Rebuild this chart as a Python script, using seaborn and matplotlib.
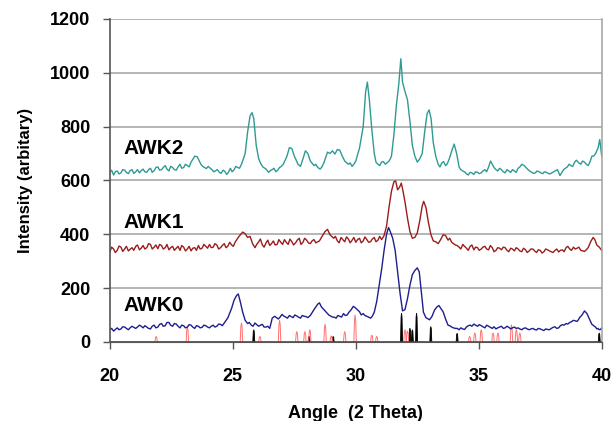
import numpy as np
import pandas as pd
import matplotlib
matplotlib.use('Agg')
import matplotlib.pyplot as plt
import seaborn as sns

# values (angle in 2-theta, intensity)
awk2_angle = [20.0, 20.15, 20.3, 20.45, 20.6, 20.75, 20.9, 21.05, 21.2, 21.35, 21.5, 21.65, 21.8, 21.95,
              22.1, 22.25, 22.4, 22.55, 22.7, 22.85, 23.0, 23.15, 23.3, 23.45, 23.55, 23.7, 23.85, 24.0,
              24.15, 24.3, 24.45, 24.6, 24.75, 24.9, 25.05, 25.2, 25.35, 25.5, 25.6, 25.7, 25.78, 25.85,
              25.95, 26.05, 26.15, 26.3, 26.45, 26.6, 26.75, 26.9, 27.05, 27.2, 27.3, 27.4, 27.5, 27.65,
              27.75, 27.85, 27.95, 28.05, 28.15, 28.3, 28.45, 28.55, 28.7, 28.85, 28.95, 29.05, 29.15,
              29.25, 29.35, 29.45, 29.55, 29.7, 29.85, 30.0, 30.15, 30.3, 30.4, 30.47, 30.55, 30.65, 30.75,
              30.9, 31.05, 31.2, 31.35, 31.45, 31.55, 31.65, 31.75, 31.83, 31.9, 32.0, 32.1, 32.2, 32.3,
              32.4, 32.5, 32.6, 32.7, 32.8, 32.9, 32.98, 33.06, 33.15, 33.25, 33.35, 33.5, 33.65, 33.8,
              33.92, 34.0, 34.1, 34.2, 34.35, 34.5, 34.65, 34.8, 34.95, 35.1, 35.25, 35.4, 35.48, 35.55,
              35.7, 35.85, 36.0, 36.15, 36.3, 36.45, 36.6, 36.75, 36.85, 37.0, 37.15, 37.3, 37.45, 37.6,
              37.75, 37.9, 38.05, 38.2, 38.3, 38.45, 38.6, 38.75, 38.9, 39.0, 39.15, 39.3, 39.45, 39.6,
              39.75, 39.85, 39.92, 40.0]
awk2_int = [630, 620, 635, 628, 638, 625, 640, 632, 628, 642, 630, 645, 636, 650,
            640, 655, 635, 648, 638, 660, 648, 655, 668, 690, 688, 660, 648, 652,
            640, 636, 630, 638, 622, 645, 640, 648, 660, 700, 780, 840, 852, 830,
            730, 680, 660, 645, 630, 640, 632, 648, 660, 690, 722, 718, 690, 660,
            652, 680, 710, 700, 672, 655, 648, 642, 665, 705, 700, 710, 698,
            715, 712, 690, 672, 660, 652, 672, 720, 800, 930, 965, 900, 790, 700,
            660, 668, 660, 672, 690, 770, 880, 960, 1052, 965, 930, 900, 820, 730,
            690, 668, 680, 700, 780, 848, 862, 830, 740, 690, 660, 665, 655, 680,
            715, 735, 700, 650, 635, 625, 630, 622, 630, 628, 640, 650, 672, 660,
            640, 645, 632, 640, 630, 635, 645, 660, 655, 640, 630, 628, 632, 625,
            630, 624, 632, 640, 618, 640, 650, 655, 668, 672, 660, 668, 655, 690,
            700, 720, 752, 690]
# extra wiggle points read between the main ones
awk2_angle_b = [20.07, 20.22, 20.37, 20.52, 20.67, 20.82, 20.97, 21.12, 21.27, 21.42, 21.57, 21.72,
                21.87, 22.02, 22.17, 22.32, 22.47, 22.62, 22.77, 22.92, 23.07, 23.22, 23.77, 23.92,
                24.07, 24.22, 24.37, 24.52, 24.67, 24.82, 24.97, 25.12, 25.27, 26.22, 26.37, 26.52,
                26.67, 26.82, 26.97, 28.37, 28.62, 29.77, 29.92, 30.82, 30.97, 31.12, 31.27, 31.4,
                33.42, 33.57, 33.72, 34.27, 34.42, 34.57, 34.72, 34.87, 35.02, 35.17, 35.32, 35.62,
                35.77, 35.92, 36.07, 36.22, 36.37, 36.52, 36.67, 36.92, 37.07, 37.22, 37.37, 37.52,
                37.67, 37.82, 37.97, 38.12, 38.37, 38.52, 38.67, 38.82, 38.97, 39.07, 39.22, 39.37,
                39.52, 39.67]
awk2_int_b = [638, 632, 624, 640, 630, 636, 626, 640, 636, 632, 640, 630,
              648, 638, 648, 642, 652, 640, 650, 645, 660, 650, 652, 644,
              646, 632, 640, 626, 634, 630, 632, 652, 645, 650, 640, 636,
              645, 638, 652, 660, 650, 665, 660, 668, 655, 670, 665, 680,
              650, 670, 662, 640, 632, 620, 628, 632, 625, 635, 632, 648,
              635, 640, 628, 635, 640, 630, 650, 648, 635, 626, 635, 628,
              632, 626, 628, 636, 628, 645, 660, 652, 675, 665, 672, 660,
              668, 690]

awk1_angle = [20.0, 20.15, 20.3, 20.45, 20.6, 20.75, 20.9, 21.05, 21.2, 21.35, 21.5, 21.65, 21.8, 21.95,
              22.1, 22.25, 22.4, 22.55, 22.7, 22.85, 23.0, 23.15, 23.3, 23.45, 23.6, 23.75, 23.9, 24.05,
              24.2, 24.35, 24.5, 24.65, 24.8, 24.95, 25.1, 25.25, 25.4, 25.5, 25.6, 25.7, 25.8, 25.9,
              26.05, 26.2, 26.35, 26.5, 26.65, 26.8, 26.95, 27.1, 27.25, 27.4, 27.55, 27.7, 27.85, 28.0,
              28.15, 28.3, 28.45, 28.6, 28.75, 28.85, 28.95, 29.1, 29.25, 29.4, 29.55, 29.7, 29.85, 30.0,
              30.15, 30.3, 30.45, 30.6, 30.75, 30.9, 31.05, 31.15, 31.25, 31.35, 31.45, 31.55, 31.62,
              31.7, 31.78, 31.85, 31.92, 32.0, 32.1, 32.2, 32.3, 32.4, 32.5, 32.6, 32.7, 32.76, 32.85,
              32.95, 33.05, 33.15, 33.25, 33.35, 33.45, 33.55, 33.65, 33.75, 33.9, 34.05, 34.2, 34.35,
              34.5, 34.65, 34.8, 34.95, 35.1, 35.25, 35.4, 35.55, 35.7, 35.85, 36.0, 36.15, 36.3, 36.45,
              36.6, 36.75, 36.9, 37.05, 37.2, 37.35, 37.5, 37.65, 37.8, 37.95, 38.1, 38.25, 38.4, 38.55,
              38.7, 38.85, 39.0, 39.15, 39.3, 39.45, 39.55, 39.65, 39.72, 39.8, 39.9, 40.0]
awk1_int = [335, 345, 340, 352, 345, 338, 350, 355, 342, 358, 350, 362, 352, 346,
            358, 350, 342, 355, 348, 340, 352, 345, 338, 350, 358, 348, 355, 362,
            352, 360, 350, 365, 356, 360, 372, 392, 408, 402, 388, 392, 365, 350,
            372, 360, 368, 358, 375, 362, 370, 380, 362, 372, 368, 385, 370, 378,
            365, 380, 372, 388, 410, 418, 398, 385, 375, 388, 372, 382, 378, 370,
            385, 375, 380, 372, 388, 378, 380, 395, 430, 500, 560, 595, 598,
            565, 575, 590, 560, 520, 460, 410, 385, 388, 405, 450, 505, 522, 500,
            445, 400, 375, 372, 365, 380, 398, 395, 378, 370, 360, 352, 362,
            348, 355, 342, 350, 345, 355, 342, 350, 340, 348, 352, 340, 348, 338,
            345, 335, 342, 338, 345, 332, 340, 335, 342, 335, 340, 334, 342, 350,
            345, 352, 348, 340, 336, 350, 372, 388, 380, 360, 352, 340]
awk1_angle_b = [20.07, 20.22, 20.37, 20.52, 20.67, 20.82, 20.97, 21.12, 21.27, 21.42, 21.57, 21.72,
                21.87, 22.02, 22.17, 22.32, 22.47, 22.62, 22.77, 22.92, 23.07, 23.22, 23.37, 23.52,
                23.67, 23.82, 23.97, 24.12, 24.27, 24.42, 24.57, 24.72, 24.87, 25.02, 25.97, 26.12,
                26.27, 26.42, 26.57, 26.72, 26.87, 27.02, 27.17, 27.32, 27.47, 27.62, 27.77, 27.92,
                28.07, 28.22, 28.37, 28.52, 29.17, 29.32, 29.47, 29.62, 29.77, 29.92, 30.07, 30.22,
                30.37, 30.52, 30.67, 30.82, 30.97, 33.82, 33.97, 34.12, 34.27, 34.42, 34.57, 34.72,
                34.87, 35.02, 35.17, 35.32, 35.47, 35.62, 35.77, 35.92, 36.07, 36.22, 36.37, 36.52,
                36.67, 36.82, 36.97, 37.12, 37.27, 37.42, 37.57, 37.72, 37.87, 38.02, 38.17, 38.32,
                38.47, 38.62, 38.77, 38.92, 39.07, 39.22, 39.37]
awk1_int_b = [352, 332, 356, 336, 355, 344, 340, 360, 348, 345, 365, 345,
              360, 362, 345, 362, 350, 340, 355, 358, 338, 355, 348, 340,
              345, 362, 348, 350, 365, 345, 358, 350, 370, 355, 362, 382,
              352, 378, 365, 360, 380, 362, 370, 382, 360, 378, 362, 385,
              368, 375, 368, 375, 392, 368, 380, 390, 368, 388, 380, 368,
              390, 370, 382, 372, 392, 385, 365, 358, 345, 355, 340, 360,
              352, 340, 352, 345, 358, 335, 350, 342, 350, 335, 345, 350,
              338, 348, 332, 345, 338, 342, 330, 345, 338, 332, 345, 340,
              335, 355, 340, 345, 352, 338, 342]

awk0_angle = [20.0, 20.15, 20.3, 20.45, 20.6, 20.75, 20.9, 21.05, 21.2, 21.35, 21.5, 21.65, 21.8, 21.95,
              22.1, 22.25, 22.4, 22.55, 22.7, 22.85, 23.0, 23.15, 23.3, 23.45, 23.6, 23.75, 23.9, 24.05,
              24.2, 24.35, 24.5, 24.65, 24.8, 24.95, 25.05, 25.15, 25.22, 25.3, 25.4, 25.5, 25.6, 25.75,
              25.9, 26.05, 26.2, 26.35, 26.5, 26.6, 26.7, 26.85, 27.0, 27.15, 27.3, 27.45, 27.6, 27.75,
              27.9, 28.05, 28.15, 28.3, 28.45, 28.52, 28.6, 28.75, 28.9, 29.05, 29.2, 29.35, 29.5, 29.65,
              29.8, 29.9, 30.0, 30.15, 30.3, 30.45, 30.6, 30.75, 30.85, 30.95, 31.05, 31.15, 31.25, 31.33,
              31.4, 31.5, 31.6, 31.7, 31.8, 31.9, 32.0, 32.1, 32.2, 32.3, 32.4, 32.5, 32.58, 32.67, 32.75,
              32.85, 33.0, 33.1, 33.2, 33.3, 33.38, 33.45, 33.55, 33.65, 33.75, 33.9, 34.05, 34.2, 34.35,
              34.5, 34.65, 34.8, 34.95, 35.1, 35.25, 35.4, 35.55, 35.7, 35.85, 36.0, 36.15, 36.3, 36.45,
              36.6, 36.75, 36.9, 37.05, 37.2, 37.35, 37.5, 37.65, 37.8, 37.95, 38.1, 38.25, 38.4, 38.55,
              38.7, 38.85, 39.0, 39.1, 39.2, 39.3, 39.4, 39.5, 39.6, 39.7, 39.8, 39.9, 40.0]
awk0_int = [45, 40, 52, 48, 55, 45, 58, 50, 62, 52, 55, 48, 62, 55,
            68, 60, 72, 58, 66, 52, 60, 55, 62, 50, 58, 54, 60, 52,
            62, 58, 65, 70, 90, 125, 155, 172, 178, 150, 110, 80, 68, 62,
            70, 58, 65, 55, 50, 88, 95, 85, 102, 92, 98, 90, 96, 88,
            95, 90, 98, 120, 140, 145, 130, 115, 100, 92, 88, 95, 105, 100,
            118, 132, 125, 112, 105, 95, 88, 110, 150, 210, 270, 340, 400, 425,
            410, 385, 340, 260, 180, 115, 120, 160, 210, 250, 265, 275, 260, 180, 110,
            90, 82, 95, 118, 130, 135, 125, 112, 85, 62, 55, 50, 45, 48,
            55, 62, 66, 58, 60, 52, 58, 50, 48, 55, 50, 58, 48, 55,
            52, 45, 52, 45, 50, 44, 48, 42, 46, 50, 56, 52, 64, 68,
            72, 80, 76, 90, 100, 115, 105, 85, 65, 58, 48, 45, 52]
awk0_angle_b = [20.07, 20.22, 20.37, 20.52, 20.67, 20.82, 20.97, 21.12, 21.27, 21.42, 21.57, 21.72,
                21.87, 22.02, 22.17, 22.32, 22.47, 22.62, 22.77, 22.92, 23.07, 23.22, 23.37, 23.52,
                23.67, 23.82, 23.97, 24.12, 24.27, 24.42, 24.57, 25.67, 25.82, 25.97, 26.12, 26.27,
                26.42, 26.92, 27.07, 27.22, 27.37, 27.52, 27.67, 27.82, 27.97, 29.12, 29.27, 29.42,
                29.57, 29.72, 30.22, 30.37, 30.52, 30.67, 33.82, 33.97, 34.12, 34.27, 34.42, 34.57,
                34.72, 34.87, 35.02, 35.17, 35.32, 35.47, 35.62, 35.77, 35.92, 36.07, 36.22, 36.37,
                36.52, 36.67, 36.82, 36.97, 37.12, 37.27, 37.42, 37.57, 37.72, 37.87, 38.02, 38.17,
                38.32, 38.47, 38.62, 38.77, 38.92, 39.05, 39.65, 39.75, 39.85, 39.95]
awk0_int_b = [50, 46, 45, 56, 50, 52, 54, 55, 58, 60, 50, 58,
              52, 65, 58, 72, 62, 68, 58, 62, 52, 64, 55, 60,
              52, 62, 55, 58, 55, 66, 60, 72, 58, 64, 62, 55,
              58, 92, 96, 88, 94, 100, 92, 98, 94, 92, 98, 92,
              98, 110, 100, 98, 92, 95, 60, 52, 50, 52, 46, 60,
              58, 62, 64, 56, 62, 54, 56, 52, 58, 52, 54, 52,
              50, 48, 50, 48, 48, 46, 50, 45, 48, 45, 54, 50,
              60, 62, 66, 75, 78, 82, 62, 55, 50, 46]

# reference patterns (peak position, height)
ref_red_pos = [21.88, 23.15, 25.35, 26.1, 26.9, 27.6, 27.93, 28.13, 28.75, 29.0, 29.55, 29.97,
               30.65, 30.85, 32.0, 32.1, 34.63, 34.84, 35.1, 35.58, 35.78, 36.33, 36.53, 36.67]
ref_red_h = [20, 55, 70, 20, 80, 38, 38, 45, 65, 22, 38, 100,
             25, 20, 45, 40, 20, 33, 45, 33, 33, 63, 45, 33]
ref_black_pos = [25.85, 28.1, 29.08, 31.86, 32.2, 32.3, 32.47, 33.05, 34.12, 39.9]
ref_black_h = [45, 20, 20, 107, 51, 45, 107, 57, 32, 33]

labels = ['AWK2', 'AWK1', 'AWK0']
label_y = [720, 445, 135]
x_ticks = [20, 25, 30, 35, 40]
y_ticks = [0, 200, 400, 600, 800, 1000, 1200]

df = pd.concat([
    pd.DataFrame({'angle': awk2_angle + awk2_angle_b, 'intensity': awk2_int + awk2_int_b, 'sample': 'AWK2'}),
    pd.DataFrame({'angle': awk1_angle + awk1_angle_b, 'intensity': awk1_int + awk1_int_b, 'sample': 'AWK1'}),
    pd.DataFrame({'angle': awk0_angle + awk0_angle_b, 'intensity': awk0_int + awk0_int_b, 'sample': 'AWK0'}),
])
df = df.sort_values(['sample', 'angle'])
colors = {'AWK2': '#2f9a93', 'AWK1': '#9b1c1c', 'AWK0': '#1e1e8e'}

sns.set_style('white')
plt.rcParams['font.family'] = ['Liberation Sans', 'DejaVu Sans']
plt.rcParams['font.weight'] = 'bold'

fig, ax = plt.subplots(figsize=(6.14, 4.21), dpi=100)
fig.subplots_adjust(left=0.179, right=0.980, top=0.955, bottom=0.188)

ax.yaxis.grid(True, color='#a0a0a0', linewidth=1.1)
ax.set_axisbelow(True)

# reference stick patterns
w = 0.05
for p, h in zip(ref_red_pos, ref_red_h):
    ax.plot([p - w, p - w / 2, p, p + w / 2, p + w], [0, h * 0.8, h, h * 0.8, 0],
            color='#ff7070', lw=0.7)
for p, h in zip(ref_black_pos, ref_black_h):
    ax.fill([p - 0.04, p - 0.02, p, p + 0.02, p + 0.04], [0, h * 0.85, h, h * 0.85, 0],
            color='black', lw=0.6)
ax.axhline(0, color='#d01010', lw=1.8, zorder=3)

sns.lineplot(data=df, x='angle', y='intensity', hue='sample', palette=colors,
             estimator=None, sort=False, lw=1.0, legend=False, ax=ax)

for lab, ly in zip(labels, label_y):
    ax.text(20.55, ly, lab, fontsize=15, fontweight='bold', color='black', va='center')

ax.set_xlim(20, 40)
ax.set_ylim(0, 1200)
ax.set_xticks(x_ticks)
ax.set_xticklabels([str(v) for v in x_ticks], fontweight='bold', color='black')
ax.set_yticks(y_ticks)
ax.set_yticklabels([str(v) for v in y_ticks], fontweight='bold', color='black')
ax.tick_params(axis='both', direction='out', length=5, width=1, color='#555555',
               labelsize=13, pad=9, left=True, bottom=True)
ax.tick_params(axis='x', pad=14)
ax.set_xlabel('Angle  (2 Theta)', fontsize=13, fontweight='bold', color='black', labelpad=14)
ax.set_ylabel('Intensity (arbitary)', fontsize=12, fontweight='bold', color='black', labelpad=12)

ax.spines['top'].set_visible(False)
ax.spines['left'].set_color('#555555')
ax.spines['left'].set_linewidth(1.2)
ax.spines['right'].set_color('#a0a0a0')
ax.spines['right'].set_linewidth(1.1)
ax.spines['bottom'].set_color('#555555')

fig.savefig('out.png', dpi=100)
